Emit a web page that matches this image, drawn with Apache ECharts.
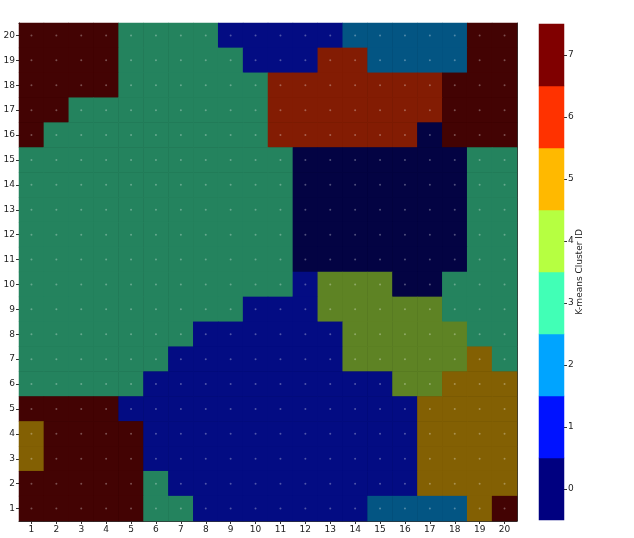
<!DOCTYPE html>
<html>
<head>
<meta charset="utf-8">
<script src="https://cdn.jsdelivr.net/npm/echarts@6/dist/echarts.min.js"></script>
<style>
  html, body { margin: 0; padding: 0; background: #fff; }
  #chart { width: 634px; height: 538px; }
</style>
</head>
<body>
<div id="chart"></div>
<script>
// grid labels
var cols = ['1','2','3','4','5','6','7','8','9','10','11','12','13','14','15','16','17','18','19','20'];
var rowsY = cols;
var clusterIds = ['0','1','2','3','4','5','6','7'];
// jet colours for 8 clusters (colorbar)
var clusterColors = ['#000080','#0012ff','#00a4ff','#41ffb6','#b6ff41','#ffb900','#ff3200','#800000'];

// cluster id per cell, top row (y=20) first, columns 1..20
var clusterRows = [
    [7,7,7,7,3,3,3,3,1,1,1,1,1,2,2,2,2,2,7,7], // 20
    [7,7,7,7,3,3,3,3,3,1,1,1,6,6,2,2,2,2,7,7], // 19
    [7,7,7,7,3,3,3,3,3,3,6,6,6,6,6,6,6,7,7,7], // 18
    [7,7,3,3,3,3,3,3,3,3,6,6,6,6,6,6,6,7,7,7], // 17
    [7,3,3,3,3,3,3,3,3,3,6,6,6,6,6,6,0,7,7,7], // 16
    [3,3,3,3,3,3,3,3,3,3,3,0,0,0,0,0,0,0,3,3], // 15
    [3,3,3,3,3,3,3,3,3,3,3,0,0,0,0,0,0,0,3,3], // 14
    [3,3,3,3,3,3,3,3,3,3,3,0,0,0,0,0,0,0,3,3], // 13
    [3,3,3,3,3,3,3,3,3,3,3,0,0,0,0,0,0,0,3,3], // 12
    [3,3,3,3,3,3,3,3,3,3,3,0,0,0,0,0,0,0,3,3], // 11
    [3,3,3,3,3,3,3,3,3,3,3,1,4,4,4,0,0,3,3,3], // 10
    [3,3,3,3,3,3,3,3,3,1,1,1,4,4,4,4,4,3,3,3], // 9
    [3,3,3,3,3,3,3,1,1,1,1,1,1,4,4,4,4,4,3,3], // 8
    [3,3,3,3,3,3,1,1,1,1,1,1,1,4,4,4,4,4,5,3], // 7
    [3,3,3,3,3,1,1,1,1,1,1,1,1,1,1,4,4,5,5,5], // 6
    [7,7,7,7,1,1,1,1,1,1,1,1,1,1,1,1,5,5,5,5], // 5
    [5,7,7,7,7,1,1,1,1,1,1,1,1,1,1,1,5,5,5,5], // 4
    [5,7,7,7,7,1,1,1,1,1,1,1,1,1,1,1,5,5,5,5], // 3
    [7,7,7,7,7,3,1,1,1,1,1,1,1,1,1,1,5,5,5,5], // 2
    [7,7,7,7,7,3,3,1,1,1,1,1,1,1,2,2,2,2,5,7]  // 1
];

// the map is drawn at half alpha over a near-black image
function dim(hex) {
    var out = '#';
    for (var i = 1; i < 7; i += 2) {
        var v = Math.round(parseInt(hex.substr(i, 2), 16) * 0.5 + 3);
        out += ('0' + v.toString(16)).slice(-2);
    }
    return out;
}

var cellData = [];
var dotData = [];
clusterRows.forEach(function (row, r) {
    var yi = clusterRows.length - 1 - r;
    row.forEach(function (c, xi) {
        cellData.push([xi, yi, c]);
        dotData.push([xi, yi]);
    });
});
var barData = clusterIds.map(function (id, i) { return [0, i, i]; });

var font = 'DejaVu Sans';
var txt = '#222';
var fs = 9;

var chart = echarts.init(document.getElementById('chart'));
chart.setOption({
    animation: false,
    backgroundColor: '#fff',
    grid: [
        {left: 19, top: 23, width: 498, height: 498, show: true, backgroundColor: '#060606', borderWidth: 0},
        {left: 539, top: 24, width: 25, height: 496, show: false}
    ],
    visualMap: [
        {
            type: 'piecewise', show: false, dimension: 2, seriesIndex: 0,
            pieces: clusterColors.map(function (col, i) { return {value: i, color: dim(col)}; })
        },
        {
            type: 'piecewise', show: false, dimension: 2, seriesIndex: 2,
            pieces: clusterColors.map(function (col, i) { return {value: i, color: col}; })
        }
    ],
    xAxis: [
        {
            type: 'category', data: cols, gridIndex: 0, position: 'bottom',
            axisLine: {show: true, lineStyle: {color: '#333', width: 1}},
            axisTick: {show: true, alignWithLabel: true, length: 3, lineStyle: {color: '#333'}},
            axisLabel: {fontFamily: font, fontSize: fs, color: txt, margin: 4, interval: 0},
            splitLine: {show: false}
        },
        {
            type: 'category', data: cols, gridIndex: 0, position: 'top',
            axisLine: {show: true, lineStyle: {color: '#333', width: 1}},
            axisTick: {show: false}, axisLabel: {show: false}
        },
        {
            type: 'category', data: ['c'], gridIndex: 1,
            axisLine: {show: false}, axisTick: {show: false}, axisLabel: {show: false}
        }
    ],
    yAxis: [
        {
            type: 'category', data: rowsY, gridIndex: 0, position: 'left',
            axisLine: {show: true, lineStyle: {color: '#333', width: 1}},
            axisTick: {show: true, alignWithLabel: true, length: 3, lineStyle: {color: '#333'}},
            axisLabel: {fontFamily: font, fontSize: fs, color: txt, margin: 4, interval: 0},
            splitLine: {show: false}
        },
        {
            type: 'category', data: rowsY, gridIndex: 0, position: 'right',
            axisLine: {show: true, lineStyle: {color: '#333', width: 1}},
            axisTick: {show: false}, axisLabel: {show: false}
        },
        {
            type: 'category', data: clusterIds, gridIndex: 1, position: 'right',
            axisLine: {show: false},
            axisTick: {show: true, alignWithLabel: true, length: 3, lineStyle: {color: '#333'}},
            axisLabel: {fontFamily: font, fontSize: fs, color: txt, margin: 4},
            name: 'K-means Cluster ID', nameLocation: 'middle', nameRotate: 90, nameGap: 11,
            nameMoveOverlap: false,
            nameTextStyle: {fontFamily: font, fontSize: fs, color: txt}
        }
    ],
    series: [
        {
            type: 'heatmap', xAxisIndex: 0, yAxisIndex: 0, data: cellData,
            itemStyle: {borderWidth: 0}, emphasis: {disabled: true}
        },
        {
            type: 'scatter', xAxisIndex: 0, yAxisIndex: 0, data: dotData,
            symbolSize: 2, itemStyle: {color: '#ffffff', opacity: 0.3}, silent: true
        },
        {
            type: 'heatmap', xAxisIndex: 2, yAxisIndex: 2, data: barData,
            itemStyle: {borderWidth: 0}, emphasis: {disabled: true}
        }
    ]
});
</script>
</body>
</html>
